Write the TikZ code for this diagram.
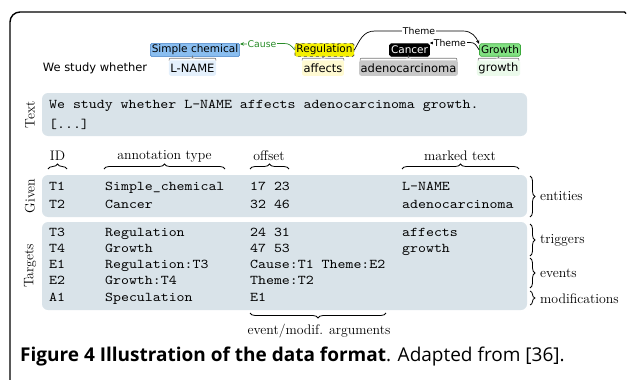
\documentclass[tikz,border=0pt]{standalone}
\usepackage{fontspec}
\usetikzlibrary{decorations.pathreplacing,arrows.meta}
\newfontfamily\djv{DejaVu Sans}
\newfontfamily\mono{lmmono10-regular.otf}[FakeStretch=1.13]
\newfontfamily\capsans{Open Sans}
\definecolor{panel}{RGB}{217,227,233}
\definecolor{chemfill}{RGB}{138,190,240}
\definecolor{chemdraw}{RGB}{70,130,200}
\definecolor{chembg}{RGB}{228,240,252}
\definecolor{regfill}{RGB}{245,240,0}
\definecolor{regbg}{RGB}{255,250,210}
\definecolor{canbg}{RGB}{200,200,200}
\definecolor{growfill}{RGB}{130,225,130}
\definecolor{growdraw}{RGB}{60,170,60}
\definecolor{growbg}{RGB}{235,250,235}
\definecolor{causecol}{RGB}{40,140,40}
\definecolor{bracecol}{RGB}{120,120,120}
\begin{document}
\begin{tikzpicture}[x=1pt,y=-1pt,
  lbl/.style={font=\djv\fontsize{10.5}{12}\selectfont, inner sep=1.5pt, minimum height=12.5pt, rounded corners=1.5pt, draw, line width=0.6pt},
  word/.style={font=\djv\fontsize{11.5}{13}\selectfont, inner sep=1.5pt, minimum height=15.5pt, rounded corners=2pt},
  panelbox/.style={fill=panel, rounded corners=6pt},
  hdr/.style={font=\fontsize{13.8}{16}\selectfont, inner sep=0pt},
  ttx/.style={font=\mono\fontsize{13.4}{15}\selectfont, anchor=west, inner sep=0pt, text height=8pt, text depth=2pt},
  side/.style={hdr, rotate=90},
  brc/.style={decorate, decoration={brace, amplitude=5pt}, line width=0.8pt},
  minibrc/.style={draw=bracecol, line width=0.6pt},
  arclbl/.style={font=\djv\fontsize{9.3}{11}\selectfont, fill=white, inner sep=0.8pt},
  arr/.style={line width=0.7pt, -{Stealth[length=4pt,width=3.5pt]}},
  rside/.style={hdr, anchor=west}
]
\useasboundingbox (0,0) rectangle (627,380);
% frame
\draw[line width=1.4pt, rounded corners=10pt] (10,384) -- (10,12) -- (625,12);
\draw[line width=1.4pt] (624.5,12) -- (626,13.5);

% top annotation row
\node[lbl, fill=chemfill, draw=chemdraw] (sc) at (195,50) {Simple chemical};
\node[lbl, fill=regfill, draw=black!70, dashed] (reg) at (324.5,50) {Regulation};
\node[lbl, fill=black, draw=black, text=white] (can) at (409.5,50) {Cancer};
\node[lbl, fill=growfill, draw=growdraw] (gro) at (500,50) {Growth};

\node[word] (w0) at (95,68) {We study whether};
\node[word, fill=chembg] (w1) at (192.5,68) {L-NAME};
\node[word, fill=regbg] (w2) at (323,68) {affects};
\node[word, fill=canbg] (w3) at (408.5,68) {adenocarcinoma};
\node[word, fill=growbg] (w4) at (498.5,68) {growth};

% small braces between label boxes and words
\foreach \l/\r in {169/216, 302/344, 360/457, 478/519}{
  \pgfmathsetmacro{\m}{(\l+\r)/2}
  \draw[minibrc] (\l,60.5) .. controls (\l,58.2) .. (\l+4,58.2) -- (\m-2.5,58.2)
     .. controls (\m,58.2) .. (\m,56.6) .. controls (\m,58.2) .. (\m+2.5,58.2)
     -- (\r-4,58.2) .. controls (\r,58.2) .. (\r,60.5);
}

% arcs
\draw[arr, causecol] (reg.west) .. controls (291,45) and (289,43.5) .. (284,43.5)
   -- node[arclbl, text=causecol] (cl) {Cause} ([yshift=6pt]sc.east);
\draw[arr] (reg.east) .. controls (360,40) and (363,31) .. (375,31)
   -- node[arclbl] (t1) {Theme} (463,31) .. controls (472,31) and (476,37) .. ([yshift=6pt]gro.west);
\draw[arr] (gro.west) .. controls (476,45) and (475,42.5) .. (470,42.5)
   -- node[arclbl] (t2) {Theme} ([yshift=7pt]can.east);

% panels
\fill[panelbox] (42,93) rectangle (527,136);
\fill[panelbox] (42,175) rectangle (527,217);
\fill[panelbox] (42,222) rectangle (527,310);

\node[side] (sText) at (30,114.5) {Text};
\node[side] (sGiven) at (30,196) {Given};
\node[side] (sTarg) at (30,266) {Targets};

\node[ttx] (txt1) at (49,105) {We study whether L-NAME affects adenocarcinoma growth.};
\node[ttx] (txt2) at (49,125) {[...]};

% headers
\node[hdr] (hID) at (57.5,156) {ID};
\node[hdr] (hType) at (164.5,156) {annotation type};
\node[hdr] (hOff) at (269,156) {offset};
\node[hdr] (hMark) at (460,156) {marked text};
\draw[brc] (48,169) -- (67,169);
\draw[brc] (104,169) -- (225,169);
\draw[brc] (250,169) -- (289,169);
\draw[brc] (402,169) -- (519,169);

% given rows
\node[ttx] (g1a) at (49,187) {T1};
\node[ttx] (g1b) at (105,187) {Simple\_chemical};
\node[ttx] (g1c) at (250,187) {17 23};
\node[ttx] (g1d) at (402,187) {L-NAME};
\node[ttx] (g2a) at (49,205) {T2};
\node[ttx] (g2b) at (105,205) {Cancer};
\node[ttx] (g2c) at (250,205) {32 46};
\node[ttx] (g2d) at (402,205) {adenocarcinoma};

% target rows
\node[ttx] (r1a) at (49,233) {T3};
\node[ttx] (r1b) at (105,233) {Regulation};
\node[ttx] (r1c) at (250,233) {24 31};
\node[ttx] (r1d) at (402,233) {affects};
\node[ttx] (r2a) at (49,249) {T4};
\node[ttx] (r2b) at (105,249) {Growth};
\node[ttx] (r2c) at (250,249) {47 53};
\node[ttx] (r2d) at (402,249) {growth};
\node[ttx] (r3a) at (49,265.5) {E1};
\node[ttx] (r3b) at (105,265.5) {Regulation:T3};
\node[ttx] (r3c) at (250,265.5) {Cause:T1 Theme:E2};
\node[ttx] (r4a) at (49,281.5) {E2};
\node[ttx] (r4b) at (105,281.5) {Growth:T4};
\node[ttx] (r4c) at (250,281.5) {Theme:T2};
\node[ttx] (r5a) at (49,298) {A1};
\node[ttx] (r5b) at (105,298) {Speculation};
\node[ttx] (r5c) at (250,298) {E1};

% right braces
\draw[brc] (530,176) -- (530,217);
\node[rside] (lEnt) at (540,196.5) {entities};
\draw[brc] (530,224) -- (530,256);
\node[rside] (lTrig) at (540,240) {triggers};
\draw[brc] (530,258) -- (530,288);
\node[rside] (lEv) at (540,273) {events};
\draw[brc] (530,291) -- (530,305);
\node[rside] (lMod) at (540,299) {modifications};

% bottom brace
\draw[brc] (386,313) -- (250,313);
\node[hdr] (lArg) at (319,331) {event/modif. arguments};

% caption
\node[anchor=west, inner sep=0pt, font=\capsans\fontsize{19}{22}\selectfont] (cap) at (20,357)
  {\textbf{Figure 4 Illustration of the data format}. Adapted from [36].};
\end{tikzpicture}
\end{document}
